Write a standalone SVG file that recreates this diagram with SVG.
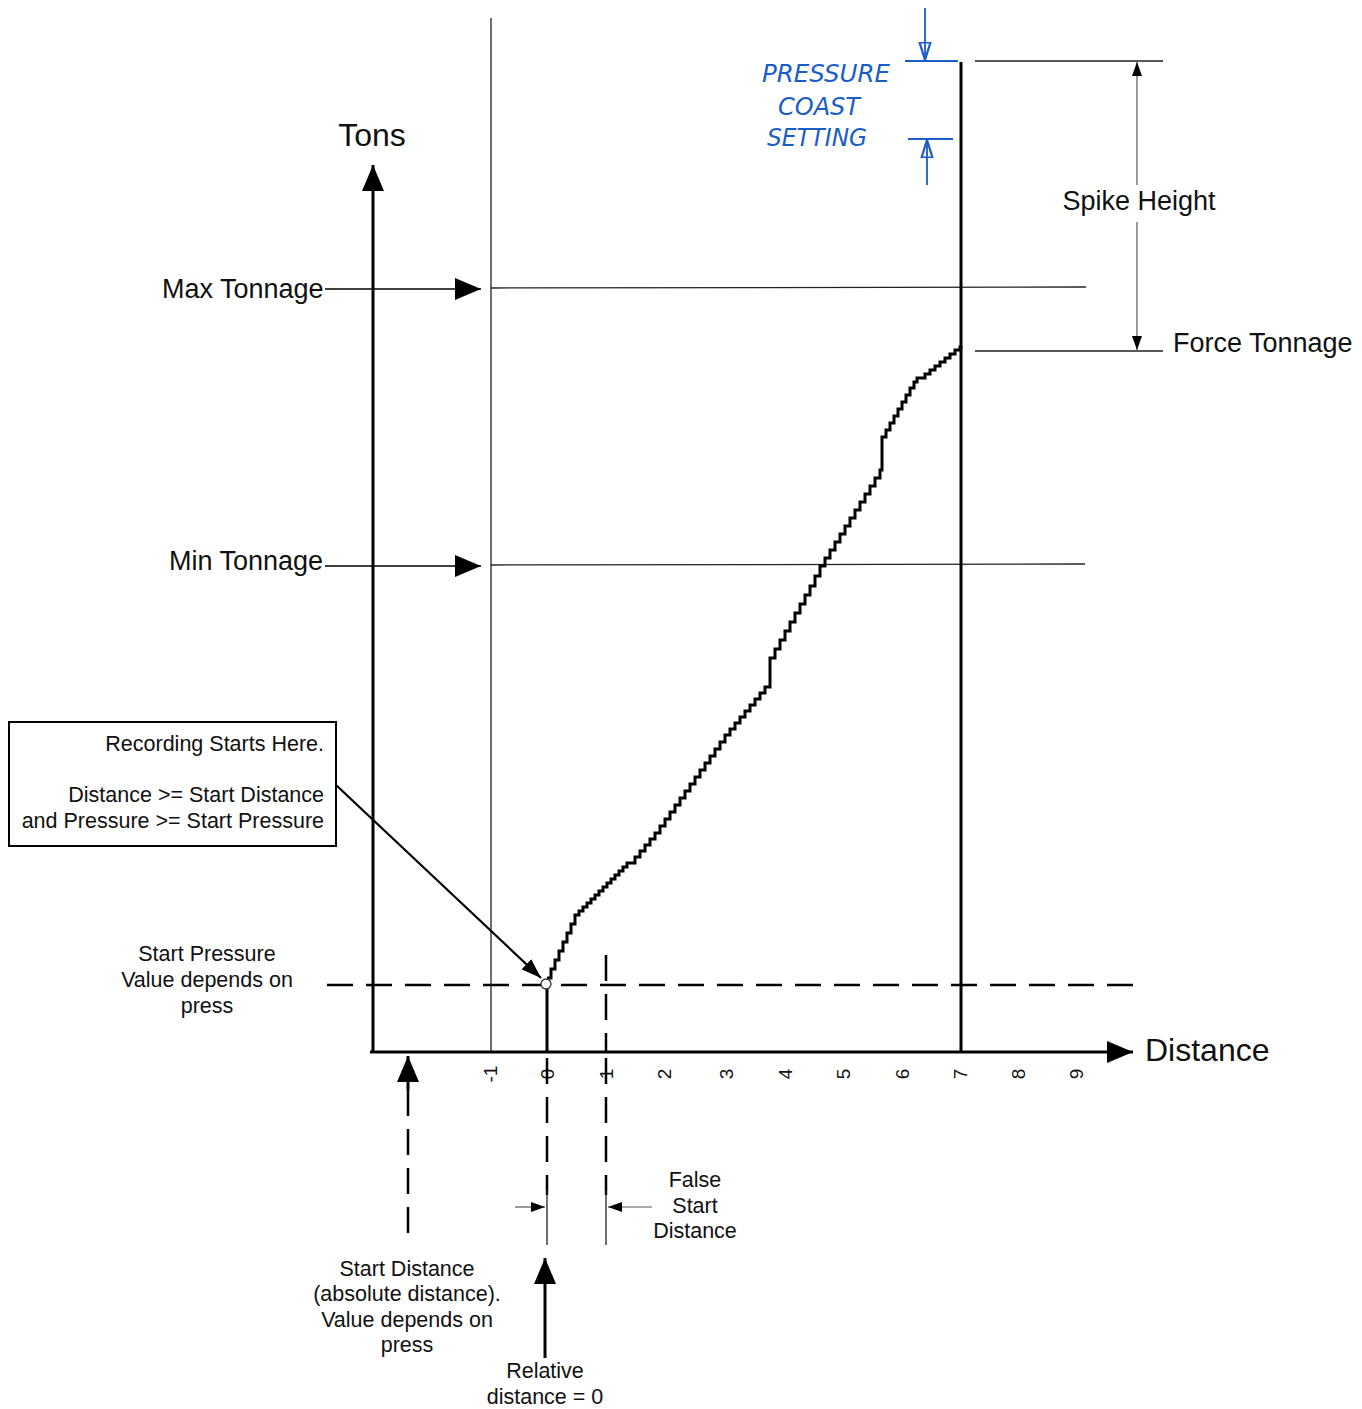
<svg xmlns="http://www.w3.org/2000/svg" width="1362" height="1409" viewBox="0 0 1362 1409">
<defs>
<marker id="ah" viewBox="0 0 10 10" refX="10" refY="5" markerWidth="10" markerHeight="10" markerUnits="userSpaceOnUse" orient="auto"><path d="M0,0 L10,5 L0,10 z" fill="#000"/></marker>
<marker id="big" viewBox="0 0 10 10" refX="10" refY="5" markerWidth="26" markerHeight="22" markerUnits="userSpaceOnUse" orient="auto" preserveAspectRatio="none"><path d="M0,0 L10,5 L0,10 z" fill="#000"/></marker>
<marker id="sm" viewBox="0 0 10 10" refX="10" refY="5" markerWidth="14" markerHeight="10" markerUnits="userSpaceOnUse" orient="auto" preserveAspectRatio="none"><path d="M0,0 L10,5 L0,10 z" fill="#000"/></marker>
<marker id="rec" viewBox="0 0 10 10" refX="10" refY="5" markerWidth="20" markerHeight="14" markerUnits="userSpaceOnUse" orient="auto" preserveAspectRatio="none"><path d="M0,0 L10,5 L0,10 z" fill="#000"/></marker>
<marker id="blue" viewBox="0 0 10 10" refX="9" refY="5" markerWidth="20" markerHeight="14" markerUnits="userSpaceOnUse" orient="auto" preserveAspectRatio="none"><path d="M0,1 L9,5 L0,9 z" fill="none" stroke="#1a5cc8" stroke-width="1.5"/></marker>
</defs>
<style>
text{font-family:"Liberation Sans",Arial,sans-serif;fill:#111}
.lbl{font-size:27px}
.big{font-size:32px}
.sm{font-size:21.5px}
.tk{font-size:19px}
.hw{font-family:"DejaVu Sans",sans-serif;font-style:italic;fill:#1a5cc8;font-size:24px}
.thin{stroke:#222;stroke-width:1.3;fill:none}
.axis{stroke:#000;stroke-width:3;fill:none}
.dash{stroke:#000;stroke-width:2.5;stroke-dasharray:26 13;fill:none}
.bl{stroke:#1a5cc8;stroke-width:1.8;fill:none}
</style>
<rect width="1362" height="1409" fill="#fff"/>

<g id="grid">
<line class="thin" x1="491" y1="18" x2="491" y2="1052"/>
<line class="thin" x1="491" y1="288" x2="1086" y2="287"/>
<line class="thin" x1="491" y1="565" x2="1085" y2="564"/>
<line class="axis" x1="961" y1="62" x2="961" y2="1052"/>
<line class="thin" x1="975" y1="61" x2="1163" y2="61" stroke="#777"/>
<line class="thin" x1="975" y1="351" x2="1163" y2="351" stroke="#777"/>
</g>

<g id="axes">
<line class="axis" x1="373" y1="1052" x2="373" y2="165" marker-end="url(#big)"/>
<line class="axis" x1="370" y1="1052" x2="1133" y2="1052" marker-end="url(#big)"/>
<text class="big" x="372" y="146" text-anchor="middle">Tons</text>
<text class="big" x="1145" y="1061">Distance</text>
</g>

<g id="ticks">
<text transform="translate(497,1074) rotate(-90)" text-anchor="middle" class="tk">-1</text>
<text transform="translate(554,1074) rotate(-90)" text-anchor="middle" class="tk">0</text>
<text transform="translate(613,1074) rotate(-90)" text-anchor="middle" class="tk">1</text>
<text transform="translate(671,1074) rotate(-90)" text-anchor="middle" class="tk">2</text>
<text transform="translate(733,1074) rotate(-90)" text-anchor="middle" class="tk">3</text>
<text transform="translate(792,1074) rotate(-90)" text-anchor="middle" class="tk">4</text>
<text transform="translate(850,1074) rotate(-90)" text-anchor="middle" class="tk">5</text>
<text transform="translate(909,1074) rotate(-90)" text-anchor="middle" class="tk">6</text>
<text transform="translate(967,1074) rotate(-90)" text-anchor="middle" class="tk">7</text>
<text transform="translate(1025,1074) rotate(-90)" text-anchor="middle" class="tk">8</text>
<text transform="translate(1083,1074) rotate(-90)" text-anchor="middle" class="tk">9</text>
</g>

<g id="curve">
<path fill="none" stroke="#000" stroke-width="3" stroke-linejoin="miter" d="M547,978 h4v-9h4v-9h4v-9h4v-9h4v-9h4v-9h4v-9 h4v-4h4v-4h4v-4h4v-4h4v-4h4v-4h4v-4h4v-4h4v-4h4v-4h4v-4h4v-4h4v-4h3 h5v-6h5v-6h5v-6h5v-6h5v-6h5v-7h5v-7h5v-7h5v-7h5v-7 h5v-7h5v-7h5v-7h5v-7h5v-7h5v-7h5v-7h5v-7h5v-7h5v-6h5v-6h5v-6h5v-6h5v-6h5v-6h5v-6h5v-6h5v-6 v-23 h5v-9h5v-9h5v-9h5v-9h5v-9h5v-9h5v-9h5v-9h5v-10h5v-10 h5v-8h5v-8h5v-8h5v-8h5v-8h5v-8h5v-8h5v-8h5v-8h5v-8h5v-8h5v-8h2v-5 v-28 h4v-7h4v-7h4v-7h4v-7h4v-7h4v-7h4v-7h4v-6h3v-4h3 h5v-4h5v-4h5v-4h5v-4h5v-4h5v-4h5v-4h5v-3h1v-1"/>
</g>

<g id="start-pressure">
<line class="dash" x1="327" y1="985" x2="1142" y2="985"/>
<line class="axis" x1="547" y1="989" x2="547" y2="1052"/>
<line class="dash" x1="606" y1="955" x2="606" y2="1052" stroke-dasharray="22 12"/>
<circle cx="546" cy="984" r="5" fill="#fff" stroke="#333" stroke-width="1.3"/>
<text class="sm" x="207" y="961" text-anchor="middle">Start Pressure</text>
<text class="sm" x="207" y="987" text-anchor="middle">Value depends on</text>
<text class="sm" x="207" y="1013" text-anchor="middle">press</text>
</g>

<g id="recording-box">
<rect x="9" y="722" width="327" height="124" fill="#fff" stroke="#000" stroke-width="2"/>
<text class="sm" x="324" y="751" text-anchor="end">Recording Starts Here.</text>
<text class="sm" x="324" y="802" text-anchor="end">Distance &gt;= Start Distance</text>
<text class="sm" x="324" y="828" text-anchor="end">and Pressure &gt;= Start Pressure</text>
</g>

<g id="connectors">
<line stroke="#000" stroke-width="2.2" x1="336" y1="785" x2="541" y2="978" marker-end="url(#rec)"/>
<line stroke="#000" stroke-width="1.5" x1="325" y1="289" x2="481" y2="289" marker-end="url(#big)"/>
<line stroke="#000" stroke-width="1.5" x1="325" y1="566" x2="481" y2="566" marker-end="url(#big)"/>
<line stroke="#555" stroke-width="1.2" x1="1137" y1="185" x2="1137" y2="62" marker-end="url(#sm)"/>
<line stroke="#555" stroke-width="1.2" x1="1137" y1="222" x2="1137" y2="350" marker-end="url(#sm)"/>
<line class="dash" x1="408" y1="1090" x2="408" y2="1245"/>
<line stroke="#000" stroke-width="3" x1="408" y1="1090" x2="408" y2="1056" marker-end="url(#big)"/>
<line class="dash" x1="547" y1="1058" x2="547" y2="1195" stroke-dasharray="38 14 34 14 30"/>
<line class="thin" x1="547" y1="1190" x2="547" y2="1245" stroke="#666"/>
<line class="dash" x1="606" y1="1058" x2="606" y2="1195" stroke-dasharray="38 14 34 14 30"/>
<line class="thin" x1="606" y1="1190" x2="606" y2="1245" stroke="#666"/>
<line stroke="#555" stroke-width="1.2" x1="515" y1="1207" x2="545" y2="1207" marker-end="url(#sm)"/>
<line stroke="#555" stroke-width="1.2" x1="652" y1="1207" x2="608" y2="1207" marker-end="url(#sm)"/>
<line stroke="#000" stroke-width="3" x1="545" y1="1358" x2="545" y2="1258" marker-end="url(#big)"/>
</g>

<g id="labels">
<text class="lbl" x="162" y="298">Max Tonnage</text>
<text class="lbl" x="169" y="570">Min Tonnage</text>
<text class="lbl" x="1139" y="210" text-anchor="middle">Spike Height</text>
<text class="lbl" x="1173" y="352">Force Tonnage</text>
<text class="sm" x="407" y="1276" text-anchor="middle">Start Distance</text>
<text class="sm" x="407" y="1301" text-anchor="middle">(absolute distance).</text>
<text class="sm" x="407" y="1327" text-anchor="middle">Value depends on</text>
<text class="sm" x="407" y="1352" text-anchor="middle">press</text>
<text class="sm" x="545" y="1378" text-anchor="middle">Relative</text>
<text class="sm" x="545" y="1404" text-anchor="middle">distance = 0</text>
<text class="sm" x="695" y="1187" text-anchor="middle">False</text>
<text class="sm" x="695" y="1213" text-anchor="middle">Start</text>
<text class="sm" x="695" y="1238" text-anchor="middle">Distance</text>
</g>

<g id="handwritten">
<text class="hw" x="762" y="82" textLength="128" lengthAdjust="spacingAndGlyphs">PRESSURE</text>
<text class="hw" x="778" y="115" textLength="82" lengthAdjust="spacingAndGlyphs">COAST</text>
<text class="hw" x="767" y="146" textLength="100" lengthAdjust="spacingAndGlyphs">SETTING</text>
<line class="bl" x1="905" y1="61" x2="958" y2="61"/>
<line class="bl" x1="925" y1="8" x2="925" y2="60" marker-end="url(#blue)"/>
<line class="bl" x1="908" y1="139" x2="953" y2="139"/>
<line class="bl" x1="927" y1="185" x2="927" y2="140" marker-end="url(#blue)"/>
</g>
</svg>
